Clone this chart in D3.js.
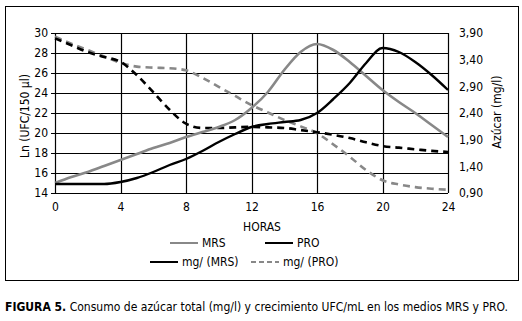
<!DOCTYPE html>
<html lang="es">
<head>
<meta charset="UTF-8">
<title>Figura 5</title>
<script src="https://cdn.jsdelivr.net/npm/d3@7"></script>
<style>
  body { margin: 0; background: #fff; }
  text { font-family: "Liberation Sans Narrow", "Arial Narrow", "DejaVu Sans Condensed", sans-serif; }
</style>
</head>
<body>
<script>
// hours
var horas = [0, 1, 2, 3, 4, 5, 6, 7, 8, 9, 10, 11, 12, 13, 14, 15, 16, 17, 18, 19, 20, 21, 22, 23, 24];

// Ln (UFC/150 ul)
var mrs = [15.0, 15.6, 16.1, 16.7, 17.3, 17.9, 18.5, 19.0, 19.6, 20.1, 20.6, 21.3, 22.5, 24.1, 26.3, 28.1, 28.9, 28.3, 27.1, 25.7, 24.3, 23.1, 22.0, 20.8, 19.6];
var pro = [14.9, 14.9, 14.9, 14.9, 15.1, 15.5, 16.1, 16.8, 17.4, 18.2, 19.1, 19.9, 20.6, 20.9, 21.1, 21.3, 22.0, 23.4, 25.0, 27.0, 28.5, 28.1, 27.1, 25.8, 24.3];

// azucar (mg/l)
var mgMRS = [3.80, 3.67, 3.54, 3.45, 3.36, 3.11, 2.79, 2.46, 2.20, 2.12, 2.12, 2.13, 2.14, 2.13, 2.12, 2.08, 2.04, 1.99, 1.93, 1.85, 1.78, 1.75, 1.72, 1.69, 1.67];
var mgPRO = [3.83, 3.70, 3.58, 3.46, 3.34, 3.27, 3.25, 3.24, 3.20, 3.06, 2.89, 2.72, 2.55, 2.41, 2.27, 2.15, 2.02, 1.81, 1.58, 1.33, 1.14, 1.06, 1.01, 0.98, 0.96];

var xTicks = [0, 4, 8, 12, 16, 20, 24];
var yTicks = [14, 16, 18, 20, 22, 24, 26, 28, 30];
var y2Ticks = [0.90, 1.40, 1.90, 2.40, 2.90, 3.40, 3.90];

var W = 522, H = 321;
var margin = { top: 33, left: 55, bottom: 128, right: 74 };
var width = W - margin.left - margin.right;
var height = H - margin.top - margin.bottom;

var svg = d3.select('body').append('svg')
  .attr('width', W)
  .attr('height', H);

// frame
svg.append('rect')
  .attr('x', 5.5).attr('y', 6.5)
  .attr('width', 513).attr('height', 274)
  .attr('fill', 'none').attr('stroke', '#000').attr('stroke-width', 1);

var g = svg.append('g')
  .attr('transform', 'translate(' + margin.left + ',' + margin.top + ')');

var x = d3.scaleLinear().domain([0, 24]).range([0, width]);
var y = d3.scaleLinear().domain([14, 30]).range([height, 0]);
var y2 = d3.scaleLinear().domain([0.9, 3.9]).range([height, 0]);

// grid
g.selectAll('.hg').data(yTicks).enter().append('line')
  .attr('x1', 0).attr('x2', width)
  .attr('y1', function (d) { return Math.round(y(d)) + 0.5; })
  .attr('y2', function (d) { return Math.round(y(d)) + 0.5; })
  .attr('stroke', '#000').attr('stroke-width', 1.2);
g.selectAll('.vg').data(xTicks).enter().append('line')
  .attr('y1', 0).attr('y2', height)
  .attr('x1', function (d) { return Math.round(x(d)) + 0.5; })
  .attr('x2', function (d) { return Math.round(x(d)) + 0.5; })
  .attr('stroke', '#000').attr('stroke-width', 1.2);

// axes
var ax = g.append('g')
  .attr('transform', 'translate(0,' + height + ')')
  .call(d3.axisBottom(x).tickValues(xTicks).tickSize(0).tickPadding(9));
var ayl = g.append('g')
  .call(d3.axisLeft(y).tickValues(yTicks).tickSize(4).tickPadding(3));
var ayr = g.append('g')
  .attr('transform', 'translate(' + width + ',0)')
  .call(d3.axisRight(y2).tickValues(y2Ticks).tickSize(0).tickPadding(11)
    .tickFormat(function (d) { return d3.format('.2f')(d).replace('.', ','); }));

[ax, ayl, ayr].forEach(function (a) {
  a.select('.domain').remove();
  a.selectAll('text').style('font-size', '12px').attr('fill', '#000');
  a.selectAll('line').attr('stroke', '#000');
});

// lines
var lineL = function (vals) {
  return d3.line().curve(d3.curveMonotoneX)
    .x(function (d, i) { return x(horas[i]); })
    .y(function (d) { return y(d); })(vals);
};
var lineR = function (vals) {
  return d3.line().curve(d3.curveMonotoneX)
    .x(function (d, i) { return x(horas[i]); })
    .y(function (d) { return y2(d); })(vals);
};

g.append('path').attr('d', lineR(mgPRO))
  .attr('fill', 'none').attr('stroke', '#888').attr('stroke-width', 2.6).attr('stroke-dasharray', '7,5');
g.append('path').attr('d', lineR(mgMRS))
  .attr('fill', 'none').attr('stroke', '#000').attr('stroke-width', 2.6).attr('stroke-dasharray', '7,5');
g.append('path').attr('d', lineL(mrs))
  .attr('fill', 'none').attr('stroke', '#888').attr('stroke-width', 2.6);
g.append('path').attr('d', lineL(pro))
  .attr('fill', 'none').attr('stroke', '#000').attr('stroke-width', 2.4);

// axis titles
svg.append('text').attr('x', 262).attr('y', 231)
  .attr('text-anchor', 'middle').style('font-size', '12px').text('HORAS');
svg.append('text')
  .attr('transform', 'translate(29,116) rotate(-90)')
  .attr('text-anchor', 'middle').style('font-size', '12px').text('Ln (UFC/150 \u00b5l)');
svg.append('text')
  .attr('transform', 'translate(501,112) rotate(-90)')
  .attr('text-anchor', 'middle').style('font-size', '12px').text('Az\u00facar (mg/l)');

// legend
var legend = [
  { name: 'MRS', x: 170, y: 243, color: '#888', dash: null },
  { name: 'PRO', x: 265, y: 243, color: '#000', dash: null },
  { name: 'mg/ (MRS)', x: 150, y: 262, color: '#000', dash: null },
  { name: 'mg/ (PRO)', x: 251, y: 262, color: '#888', dash: '5,3' }
];
var lg = svg.selectAll('.lg').data(legend).enter().append('g');
lg.append('line')
  .attr('x1', function (d) { return d.x; })
  .attr('x2', function (d) { return d.x + 28; })
  .attr('y1', function (d) { return d.y; })
  .attr('y2', function (d) { return d.y; })
  .attr('stroke', function (d) { return d.color; })
  .attr('stroke-width', 2)
  .attr('stroke-dasharray', function (d) { return d.dash; });
lg.append('text')
  .attr('x', function (d) { return d.x + 32; })
  .attr('y', function (d) { return d.y + 4; })
  .style('font-size', '12px')
  .text(function (d) { return d.name; });

// caption (fitted to the condensed width of the original)
var cap = svg.append('text').attr('x', 5).attr('y', 311)
  .style('font-size', '11.5px')
  .attr('textLength', 503)
  .attr('lengthAdjust', 'spacingAndGlyphs');
cap.append('tspan').style('font-weight', 'bold').text('FIGURA 5.');
cap.append('tspan').text(' Consumo de az\u00facar total (mg/l) y crecimiento UFC/mL en los medios MRS y PRO.');
</script>
</body>
</html>
